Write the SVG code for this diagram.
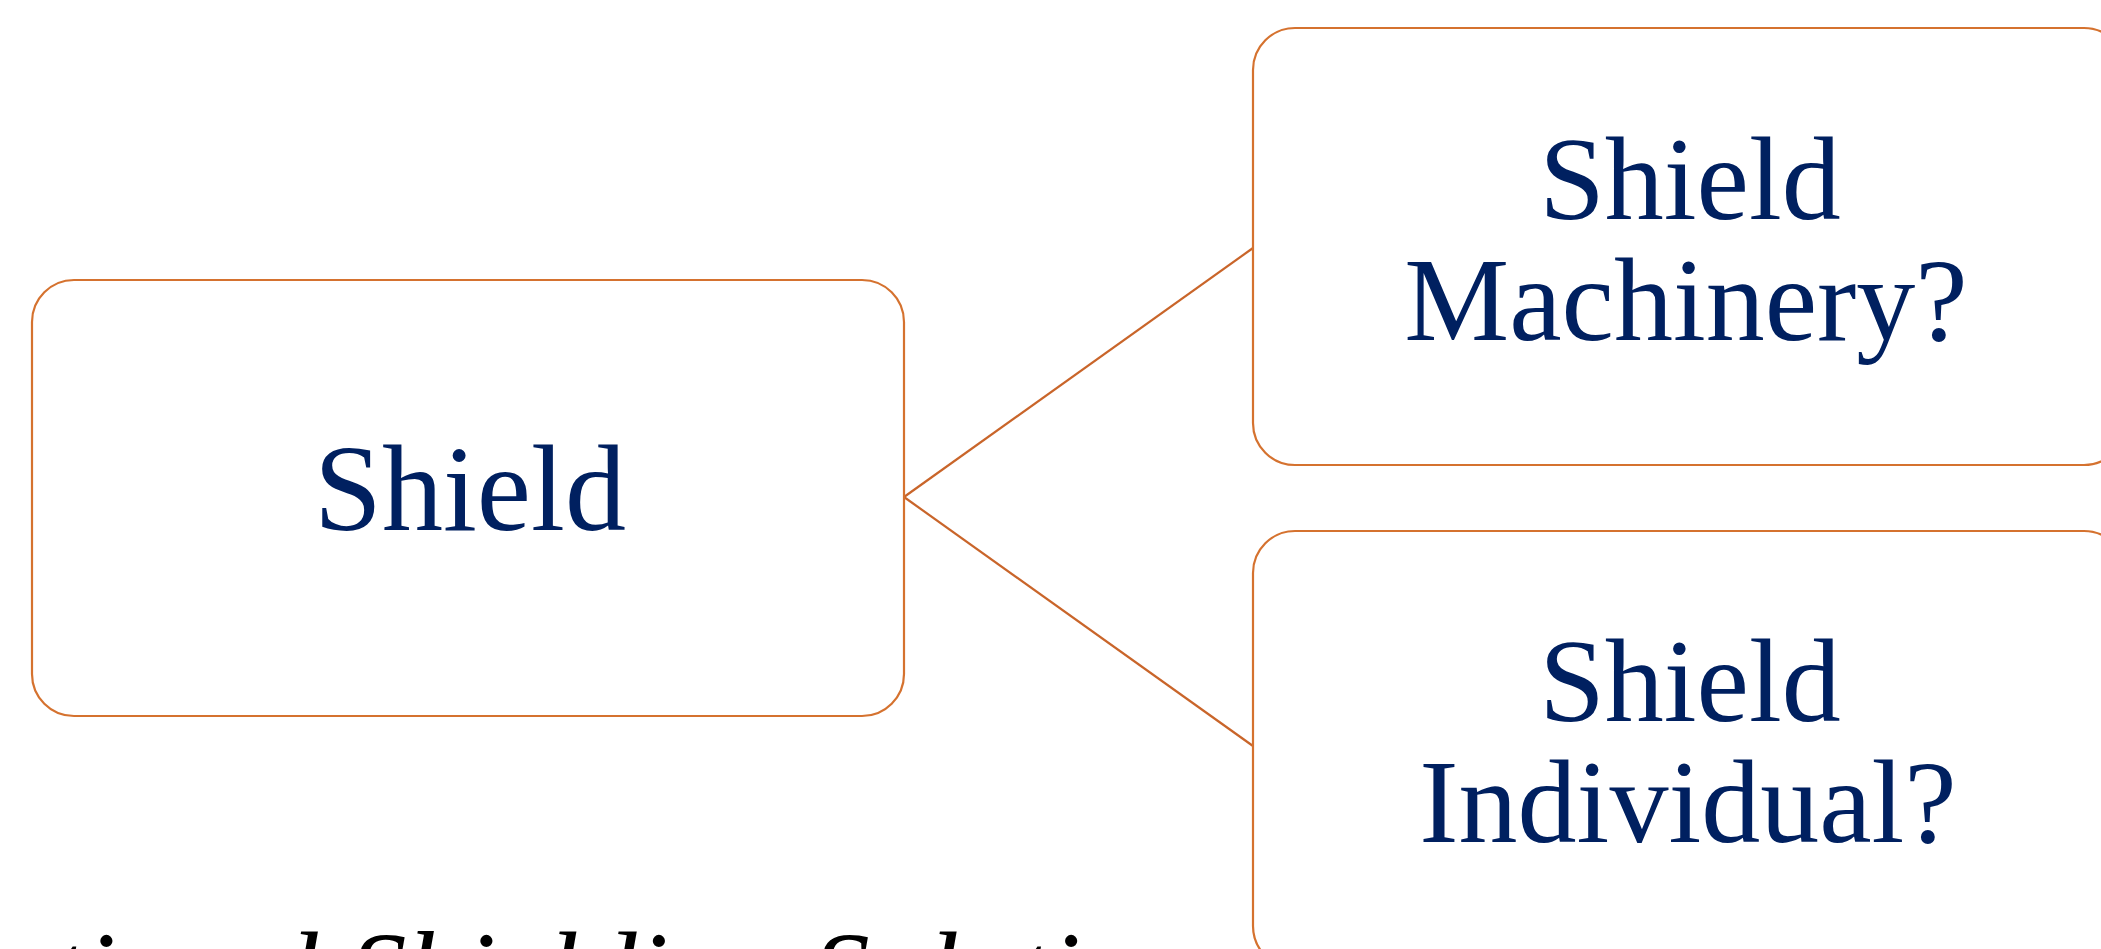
<svg xmlns="http://www.w3.org/2000/svg" width="2101" height="949" viewBox="0 0 2101 949">
<style>
.box{fill:#FFFFFF;stroke:#D5722F;stroke-width:2.2}
.conn{stroke:#C9652A;stroke-width:2.2;fill:none}
.lbl{font-family:"Liberation Serif","Times New Roman",serif;font-size:118px;fill:#002060;text-anchor:middle}
.wide{font-size:122px}
.cap{font-family:"Liberation Serif","Times New Roman",serif;font-size:115px;font-style:italic;fill:#000000}
</style>
<rect width="2101" height="949" fill="#FFFFFF"/>
<g id="connectors">
<line class="conn" x1="904" y1="497" x2="1253" y2="248"/>
<line class="conn" x1="904" y1="497" x2="1253" y2="746"/>
</g>
<g id="node-shield">
<rect class="box" x="32" y="280" width="872" height="436" rx="42" ry="42"/>
<text class="lbl wide" x="470" y="530">Shield</text>
</g>
<g id="node-machinery">
<rect class="box" x="1253" y="28" width="873" height="437" rx="42" ry="42"/>
<text class="lbl" x="1690" y="219">Shield</text>
<text class="lbl" x="1686" y="340">Machinery?</text>
</g>
<g id="node-individual">
<rect class="box" x="1253" y="531" width="873" height="437" rx="42" ry="42"/>
<text class="lbl" x="1690" y="721">Shield</text>
<text class="lbl" x="1688" y="842">Individual?</text>
</g>
<g id="caption">
<text class="cap" x="52" y="1011">tional Shielding Solution</text>
</g>
</svg>
